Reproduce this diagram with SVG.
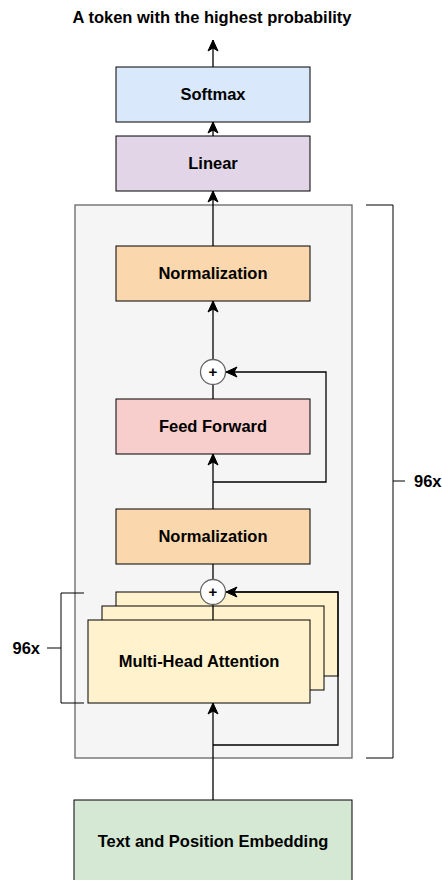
<svg xmlns="http://www.w3.org/2000/svg" width="442" height="880" viewBox="0 0 442 880">
  <style>
    .lbl { font-family: "Liberation Sans", Arial, sans-serif; font-weight: bold; font-size: 16.5px; fill: #000; text-anchor: middle; }
    .plus { font-family: "Liberation Sans", Arial, sans-serif; font-weight: bold; font-size: 15px; fill: #000; text-anchor: middle; }
    .box { stroke: #000; stroke-width: 1; }
    .wire { fill: none; stroke: #000; stroke-width: 1.3; }
    .brk { fill: none; stroke: #000; stroke-width: 1; }
  </style>
  <defs>
    <marker id="arr" markerUnits="userSpaceOnUse" markerWidth="14" markerHeight="14" viewBox="-12 -7 14 14" refX="0" refY="0" orient="auto">
      <path d="M0,0 L-11,-5 L-8,0 L-11,5 Z" fill="#000" stroke="#000" stroke-width="1"/>
    </marker>
  </defs>

  <rect width="442" height="880" fill="#fff"/>

  <text class="lbl" x="212" y="23">A token with the highest probability</text>

  <!-- repeated decoder block container -->
  <g id="block">
    <rect x="75" y="205" width="277" height="553" fill="#f5f5f5" stroke="#666666" stroke-width="1.3"/>
  </g>

  <g id="softmax">
    <rect class="box" x="116" y="67" width="194" height="55" fill="#dae8fc"/>
    <text class="lbl" x="213" y="100">Softmax</text>
  </g>
  <g id="linear">
    <rect class="box" x="116" y="136" width="194" height="55" fill="#e1d5e7"/>
    <text class="lbl" x="213" y="169">Linear</text>
  </g>
  <g id="norm-top">
    <rect class="box" x="116" y="246" width="194" height="55" fill="#fad7ac"/>
    <text class="lbl" x="213" y="279">Normalization</text>
  </g>
  <g id="feed-forward">
    <rect class="box" x="116" y="399" width="194" height="55" fill="#f8cecc"/>
    <text class="lbl" x="213" y="432">Feed Forward</text>
  </g>
  <g id="norm-mid">
    <rect class="box" x="116" y="509" width="194" height="55" fill="#fad7ac"/>
    <text class="lbl" x="213" y="542">Normalization</text>
  </g>
  <g id="attention">
    <rect class="box" x="116" y="592" width="222" height="84" fill="#fff2cc"/>
    <rect class="box" x="102" y="606" width="222" height="84" fill="#fff2cc"/>
    <rect class="box" x="88" y="620" width="222" height="83" fill="#fff2cc"/>
    <text class="lbl" x="199" y="667">Multi-Head Attention</text>
  </g>
  <g id="embedding">
    <rect class="box" x="74" y="800" width="278" height="90" fill="#d5e8d4"/>
    <text class="lbl" x="213" y="847">Text and Position Embedding</text>
  </g>

  <g id="connectors">
    <line class="wire" x1="213" y1="67" x2="213" y2="40" marker-end="url(#arr)"/>
    <line class="wire" x1="213" y1="136" x2="213" y2="122" marker-end="url(#arr)"/>
    <line class="wire" x1="213" y1="246" x2="213" y2="191" marker-end="url(#arr)"/>
    <line class="wire" x1="213" y1="359" x2="213" y2="301" marker-end="url(#arr)"/>
    <line class="wire" x1="213" y1="399" x2="213" y2="385"/>
    <line class="wire" x1="213" y1="509" x2="213" y2="454" marker-end="url(#arr)"/>
    <polyline class="wire" points="213,482 326,482 326,372 226,372" marker-end="url(#arr)"/>
    <line class="wire" x1="213" y1="564" x2="213" y2="579"/>
    <line class="wire" x1="213" y1="605" x2="213" y2="620"/>
    <line class="wire" x1="213" y1="800" x2="213" y2="703" marker-end="url(#arr)"/>
    <polyline class="wire" points="213,745 338,745 338,592 226,592" marker-end="url(#arr)"/>
  </g>

  <g id="add-top">
    <circle cx="213" cy="372" r="12.5" fill="#fff" stroke="#666666" stroke-width="1.3"/>
    <text class="plus" x="213" y="377">+</text>
  </g>
  <g id="add-bottom">
    <circle cx="213" cy="592" r="12.5" fill="#fff" stroke="#666666" stroke-width="1.3"/>
    <text class="plus" x="213" y="597">+</text>
  </g>

  <g id="repeat-right">
    <polyline class="brk" points="366,205 393,205 393,758 366,758"/>
    <line class="brk" x1="393" y1="481" x2="405" y2="481"/>
    <text class="lbl" x="414" y="487" style="text-anchor:start">96x</text>
  </g>
  <g id="repeat-left">
    <polyline class="brk" points="84,593 61,593 61,703 84,703"/>
    <line class="brk" x1="47" y1="648" x2="61" y2="648"/>
    <text class="lbl" x="40" y="654" style="text-anchor:end">96x</text>
  </g>
</svg>
